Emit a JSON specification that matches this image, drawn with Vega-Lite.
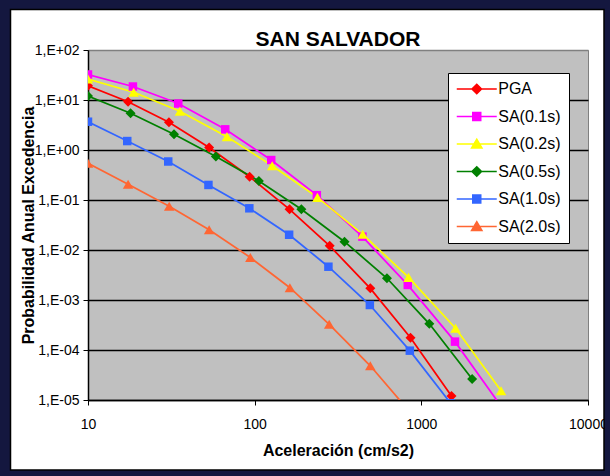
{
  "$schema": "https://vega.github.io/schema/vega-lite/v6.json",
  "width": 500,
  "height": 350,
  "autosize": {"type": "none"},
  "padding": {"left": 88, "top": 50, "right": 22, "bottom": 76},
  "background": "white",
  "title": {"text": "SAN SALVADOR", "fontSize": 21, "font": "Liberation Sans", "fontWeight": "bold", "color": "black", "anchor": "middle", "frame": "group", "baseline": "alphabetic", "offset": 4, "dy": 82},
  "config": {
    "view": {"fill": "#C0C0C0", "stroke": "#808080", "strokeWidth": 1},
    "axis": {"labelFont": "Liberation Sans", "titleFont": "Liberation Sans", "labelColor": "black", "titleColor": "black", "domainColor": "black", "tickColor": "black"}
  },
  "data": {
    "values": [
      {"series": "PGA", "x": 10, "y": 19.3},
      {"series": "PGA", "x": 17.4, "y": 9.25},
      {"series": "PGA", "x": 30.6, "y": 3.6},
      {"series": "PGA", "x": 53.3, "y": 1.12},
      {"series": "PGA", "x": 93.3, "y": 0.292},
      {"series": "PGA", "x": 162, "y": 0.0652},
      {"series": "PGA", "x": 282, "y": 0.0121},
      {"series": "PGA", "x": 494, "y": 0.00171},
      {"series": "PGA", "x": 861, "y": 0.000176},
      {"series": "PGA", "x": 1517, "y": 0.000012},
      {"series": "SA(0.1s)", "x": 10, "y": 32.4},
      {"series": "SA(0.1s)", "x": 18.6, "y": 18.6},
      {"series": "SA(0.1s)", "x": 34.8, "y": 8.5},
      {"series": "SA(0.1s)", "x": 66.6, "y": 2.59},
      {"series": "SA(0.1s)", "x": 125.7, "y": 0.63},
      {"series": "SA(0.1s)", "x": 236, "y": 0.125},
      {"series": "SA(0.1s)", "x": 443, "y": 0.0185},
      {"series": "SA(0.1s)", "x": 829, "y": 0.002},
      {"series": "SA(0.1s)", "x": 1592, "y": 0.000147},
      {"series": "SA(0.1s)", "x": 3000, "y": 0.0000076},
      {"series": "SA(0.2s)", "x": 10, "y": 26.3},
      {"series": "SA(0.2s)", "x": 18.8, "y": 14.3},
      {"series": "SA(0.2s)", "x": 35.6, "y": 5.94},
      {"series": "SA(0.2s)", "x": 68.2, "y": 1.85},
      {"series": "SA(0.2s)", "x": 127.4, "y": 0.485},
      {"series": "SA(0.2s)", "x": 238, "y": 0.113},
      {"series": "SA(0.2s)", "x": 445, "y": 0.0206},
      {"series": "SA(0.2s)", "x": 838, "y": 0.00284},
      {"series": "SA(0.2s)", "x": 1604, "y": 0.000272},
      {"series": "SA(0.2s)", "x": 3008, "y": 0.0000153},
      {"series": "SA(0.5s)", "x": 10, "y": 12.0},
      {"series": "SA(0.5s)", "x": 18.0, "y": 5.42},
      {"series": "SA(0.5s)", "x": 32.8, "y": 2.06},
      {"series": "SA(0.5s)", "x": 58.5, "y": 0.741},
      {"series": "SA(0.5s)", "x": 106, "y": 0.24},
      {"series": "SA(0.5s)", "x": 190.6, "y": 0.0652},
      {"series": "SA(0.5s)", "x": 346, "y": 0.01466},
      {"series": "SA(0.5s)", "x": 622, "y": 0.00272},
      {"series": "SA(0.5s)", "x": 1117, "y": 0.000334},
      {"series": "SA(0.5s)", "x": 2017, "y": 0.0000263},
      {"series": "SA(1.0s)", "x": 10, "y": 3.68},
      {"series": "SA(1.0s)", "x": 17.2, "y": 1.51},
      {"series": "SA(1.0s)", "x": 30.3, "y": 0.589},
      {"series": "SA(1.0s)", "x": 52.8, "y": 0.2},
      {"series": "SA(1.0s)", "x": 92.9, "y": 0.0682},
      {"series": "SA(1.0s)", "x": 161, "y": 0.0202},
      {"series": "SA(1.0s)", "x": 277, "y": 0.00463},
      {"series": "SA(1.0s)", "x": 491, "y": 0.000794},
      {"series": "SA(1.0s)", "x": 853, "y": 0.000097},
      {"series": "SA(1.0s)", "x": 1500, "y": 0.0000086},
      {"series": "SA(2.0s)", "x": 10, "y": 0.542},
      {"series": "SA(2.0s)", "x": 17.4, "y": 0.206},
      {"series": "SA(2.0s)", "x": 30.7, "y": 0.0748},
      {"series": "SA(2.0s)", "x": 53.3, "y": 0.0255},
      {"series": "SA(2.0s)", "x": 94.2, "y": 0.00708},
      {"series": "SA(2.0s)", "x": 162.7, "y": 0.00176},
      {"series": "SA(2.0s)", "x": 280, "y": 0.000327},
      {"series": "SA(2.0s)", "x": 494, "y": 0.0000483},
      {"series": "SA(2.0s)", "x": 860, "y": 0.0000056}
    ]
  },
  "layer": [
    {
      "data": {"values": [{}]},
      "mark": {"type": "rect", "x": -88, "y": -51, "x2": {"expr": "width+26"}, "y2": {"expr": "height+80"}, "fill": "white", "fillOpacity": 0, "stroke": "#14173F", "strokeWidth": 20},
      "encoding": {}
    },
    {
      "data": {"values": [{}]},
      "mark": {"type": "rect", "x": -77.5, "y": -40.5, "x2": {"expr": "width+16"}, "y2": {"expr": "height+70"}, "fill": "white", "fillOpacity": 0, "stroke": "black", "strokeWidth": 1.5},
      "encoding": {}
    },
    {
      "mark": {"type": "line", "clip": true, "strokeWidth": 1.75},
      "encoding": {
        "x": {
          "field": "x", "type": "quantitative",
          "scale": {"type": "log", "domain": [10, 10000], "nice": false},
          "axis": {"values": [10, 100, 1000, 10000], "format": "d", "title": "Aceleración (cm/s2)", "grid": false, "labelFlush": false, "labelOverlap": false, "tickSize": 5, "domainWidth": 1.5, "labelFontSize": 14, "labelPadding": 12, "titleFontSize": 16, "titleFontWeight": "bold", "titleY": 55, "titleBaseline": "alphabetic"}
        },
        "y": {
          "field": "y", "type": "quantitative",
          "scale": {"type": "log", "domain": [0.00001, 100], "nice": false},
          "axis": {
            "values": [100, 10, 1, 0.1, 0.01, 0.001, 0.0001, 0.00001],
            "labelExpr": "'1,E' + (round(log(datum.value)/LN10) < 0 ? '-' : '+') + (abs(round(log(datum.value)/LN10)) < 10 ? '0' : '') + abs(round(log(datum.value)/LN10))",
            "title": "Probabilidad Anual Excedencia",
            "grid": true,
            "gridColor": {"condition": {"test": "datum.value >= 99", "value": "#808080"}, "value": "black"},
            "gridWidth": 1.5,
            "labelFlush": false, "labelOverlap": false,
            "tickSize": 5, "domainWidth": 1.5, "labelFontSize": 14, "labelPadding": 4,
            "titleFontSize": 16, "titleFontWeight": "bold", "titleX": -55, "titleY": 175, "titleBaseline": "alphabetic"
          }
        },
        "color": {
          "field": "series", "type": "nominal",
          "scale": {"domain": ["PGA", "SA(0.1s)", "SA(0.2s)", "SA(0.5s)", "SA(1.0s)", "SA(2.0s)"], "range": ["#FF0000", "#FF00FF", "#FFFF00", "#008000", "#3366FF", "#FF6633"]},
          "legend": {
            "title": null, "orient": "none", "legendX": 360, "legendY": 23,
            "fillColor": "white", "strokeColor": "black", "padding": 8,
            "labelFont": "Liberation Sans", "labelFontSize": 16, "labelColor": "black",
            "symbolSize": 64, "symbolStrokeWidth": 1.5, "symbolOffset": 12.75, "labelOffset": 13.5, "rowPadding": 11.5,
            "encode": {
              "symbols": {
                "update": {
                  "shape": {"signal": "(datum.value === 'PGA' || datum.value === 'SA(0.5s)') ? 'M-5,0H5M0,-1.2L1.2,0L0,1.2L-1.2,0Z' : ((datum.value === 'SA(0.1s)' || datum.value === 'SA(1.0s)') ? 'M-5,0H5M-1,-1H1V1H-1Z' : 'M-5,0H5M0,-1.2L1.3,1H-1.3Z')"},
                  "fill": {"scale": "color", "field": "value"},
                  "strokeWidth": {"value": 1.5},
                  "opacity": {"value": 1}
                }
              }
            }
          }
        }
      }
    },
    {
      "transform": [{"filter": {"field": "series", "oneOf": ["PGA", "SA(0.5s)"]}}],
      "mark": {"type": "point", "shape": "diamond", "size": 100, "filled": true, "clip": true, "opacity": 1},
      "encoding": {
        "x": {"field": "x", "type": "quantitative"},
        "y": {"field": "y", "type": "quantitative"},
        "color": {"field": "series", "type": "nominal", "legend": null}
      }
    },
    {
      "transform": [{"filter": {"field": "series", "oneOf": ["SA(0.1s)", "SA(1.0s)"]}}],
      "mark": {"type": "point", "shape": "square", "size": 72, "filled": true, "clip": true, "opacity": 1},
      "encoding": {
        "x": {"field": "x", "type": "quantitative"},
        "y": {"field": "y", "type": "quantitative"},
        "color": {"field": "series", "type": "nominal", "legend": null}
      }
    },
    {
      "transform": [{"filter": {"field": "series", "oneOf": ["SA(0.2s)", "SA(2.0s)"]}}],
      "mark": {"type": "point", "shape": "triangle-up", "size": 110, "filled": true, "clip": true, "opacity": 1},
      "encoding": {
        "x": {"field": "x", "type": "quantitative"},
        "y": {"field": "y", "type": "quantitative"},
        "color": {"field": "series", "type": "nominal", "legend": null}
      }
    }
  ]
}
